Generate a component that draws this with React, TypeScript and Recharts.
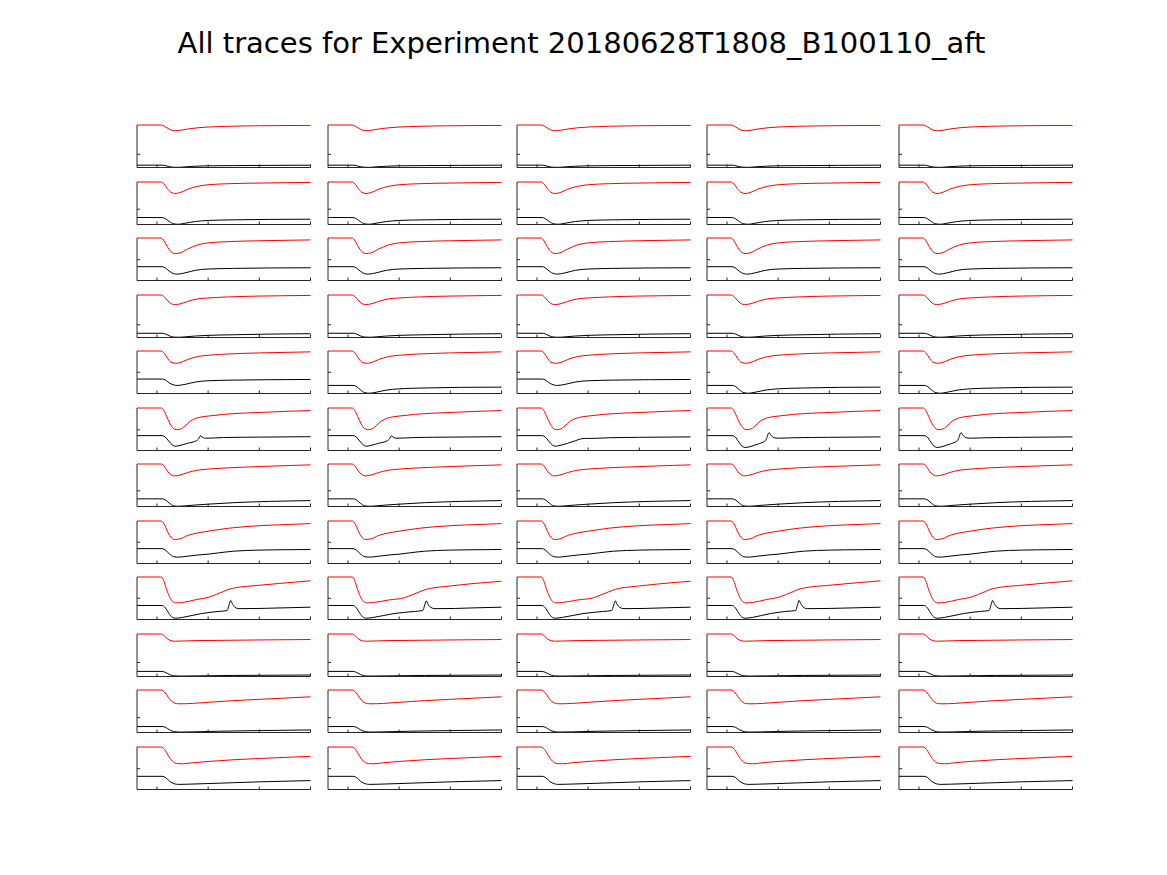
import { LineChart, Line, XAxis, YAxis } from "recharts";

// Small multiples: 12 rows x 5 columns, each panel shows a red and a black trace.
// Values are in panel units (0 = bottom axis, 1 = top of the red trace), time on x.
type Pt = [number, number];

const TITLE = "All traces for Experiment 20180628T1808_B100110_aft";
const X_DOMAIN: [number, number] = [-0.39, 3];
const X_TICKS = [0, 1, 2, 3];
const Y_TICK_BY_ROW = [0.31, 0.36, 0.49, 0.3, 0.5, 0.485, 0.37, 0.5, 0.5, 0.33, 0.35, 0.49];

const red1: Pt[] = [[-0.39, 1], [0.08, 1], [0.14, 0.975], [0.2, 0.93], [0.27, 0.885], [0.35, 0.865], [0.45, 0.875], [0.6, 0.905], [0.8, 0.935], [1, 0.952], [1.4, 0.97], [2, 0.982], [2.6, 0.988], [3, 0.99]];
const black1: Pt[] = [[-0.39, 0.055], [0.1, 0.055], [0.16, 0.045], [0.24, 0.02], [0.33, 0.006], [0.42, 0.004], [0.55, 0.015], [0.75, 0.03], [1, 0.04], [1.5, 0.045], [2.2, 0.05], [3, 0.055]];

const red2: Pt[] = [[-0.39, 1], [0.08, 1], [0.14, 0.95], [0.2, 0.85], [0.27, 0.76], [0.35, 0.73], [0.45, 0.75], [0.6, 0.83], [0.8, 0.9], [1, 0.935], [1.4, 0.96], [2, 0.975], [2.6, 0.985], [3, 0.99]];
const black2: Pt[] = [[-0.39, 0.165], [0.1, 0.163], [0.16, 0.14], [0.24, 0.07], [0.33, 0.015], [0.42, 0.006], [0.55, 0.03], [0.75, 0.07], [1, 0.095], [1.5, 0.11], [2.2, 0.12], [3, 0.125]];

const red3: Pt[] = [[-0.39, 1], [0.08, 1], [0.14, 0.93], [0.2, 0.8], [0.27, 0.68], [0.35, 0.635], [0.45, 0.65], [0.6, 0.74], [0.8, 0.84], [1, 0.885], [1.4, 0.915], [2, 0.935], [2.6, 0.948], [3, 0.955]];
const black3: Pt[] = [[-0.39, 0.325], [0.1, 0.325], [0.16, 0.3], [0.24, 0.22], [0.33, 0.16], [0.4, 0.15], [0.55, 0.18], [0.75, 0.24], [1, 0.27], [1.5, 0.285], [2.2, 0.295], [3, 0.3]];

const red4: Pt[] = [[-0.39, 1], [0.08, 1], [0.14, 0.96], [0.2, 0.88], [0.27, 0.8], [0.34, 0.775], [0.45, 0.79], [0.6, 0.85], [0.8, 0.91], [1, 0.93], [1.4, 0.955], [2, 0.975], [2.6, 0.985], [3, 0.99]];
const black4: Pt[] = [[-0.39, 0.1], [0.1, 0.1], [0.16, 0.085], [0.24, 0.04], [0.33, 0.01], [0.42, 0.006], [0.55, 0.015], [0.75, 0.035], [1, 0.05], [1.5, 0.065], [2.2, 0.08], [3, 0.09]];

const red5: Pt[] = [[-0.39, 1], [0.08, 1], [0.14, 0.95], [0.2, 0.84], [0.27, 0.74], [0.36, 0.71], [0.45, 0.725], [0.6, 0.8], [0.8, 0.87], [1, 0.9], [1.4, 0.93], [2, 0.955], [2.6, 0.97], [3, 0.98]];
const black5: Pt[] = [[-0.39, 0.34], [0.1, 0.34], [0.16, 0.32], [0.24, 0.25], [0.33, 0.2], [0.4, 0.19], [0.55, 0.215], [0.75, 0.27], [1, 0.3], [1.5, 0.315], [2.2, 0.325], [3, 0.33]];
const black5low: Pt[] = [[-0.39, 0.19], [0.1, 0.19], [0.16, 0.17], [0.24, 0.09], [0.33, 0.02], [0.42, 0.006], [0.55, 0.03], [0.75, 0.08], [1, 0.11], [1.5, 0.13], [2.2, 0.145], [3, 0.15]];

const red6: Pt[] = [[-0.39, 1], [0.08, 1], [0.13, 0.95], [0.19, 0.8], [0.26, 0.62], [0.32, 0.52], [0.38, 0.49], [0.45, 0.5], [0.55, 0.58], [0.65, 0.69], [0.77, 0.76], [0.9, 0.795], [1, 0.81], [1.3, 0.85], [1.7, 0.88], [2.2, 0.905], [2.6, 0.925], [3, 0.94]];
const black6: Pt[] = [[-0.39, 0.35], [0.1, 0.35], [0.16, 0.32], [0.23, 0.22], [0.3, 0.13], [0.36, 0.1], [0.45, 0.12], [0.6, 0.17], [0.77, 0.23], [0.81, 0.27], [0.85, 0.345], [0.88, 0.32], [0.93, 0.29], [1, 0.29], [1.3, 0.305], [2, 0.315], [3, 0.325]];
const black6hump: Pt[] = [[-0.39, 0.35], [0.1, 0.35], [0.16, 0.32], [0.23, 0.22], [0.3, 0.13], [0.36, 0.1], [0.45, 0.12], [0.6, 0.17], [0.75, 0.23], [0.85, 0.27], [0.95, 0.285], [1.1, 0.285], [1.4, 0.3], [2, 0.31], [3, 0.32]];
const black6hi: Pt[] = [[-0.39, 0.35], [0.1, 0.35], [0.16, 0.32], [0.23, 0.2], [0.3, 0.1], [0.36, 0.07], [0.45, 0.09], [0.6, 0.15], [0.74, 0.22], [0.78, 0.3], [0.82, 0.42], [0.86, 0.36], [0.92, 0.3], [1, 0.29], [1.3, 0.3], [2, 0.31], [3, 0.32]];

const red7: Pt[] = [[-0.39, 1], [0.08, 1], [0.14, 0.95], [0.2, 0.84], [0.27, 0.75], [0.34, 0.72], [0.45, 0.74], [0.6, 0.8], [0.8, 0.855], [1, 0.88], [1.4, 0.91], [2, 0.94], [2.6, 0.965], [3, 0.98]];
const black7: Pt[] = [[-0.39, 0.18], [0.1, 0.18], [0.16, 0.16], [0.24, 0.08], [0.33, 0.015], [0.42, 0.006], [0.55, 0.015], [0.75, 0.035], [1, 0.055], [1.5, 0.09], [2.2, 0.12], [3, 0.14]];

const red8: Pt[] = [[-0.39, 1], [0.08, 1], [0.14, 0.93], [0.2, 0.77], [0.27, 0.62], [0.34, 0.565], [0.45, 0.58], [0.6, 0.66], [0.8, 0.72], [1, 0.76], [1.4, 0.83], [2, 0.89], [2.6, 0.92], [3, 0.94]];
const black8: Pt[] = [[-0.39, 0.35], [0.1, 0.35], [0.16, 0.32], [0.24, 0.23], [0.33, 0.16], [0.42, 0.15], [0.55, 0.165], [0.8, 0.2], [1, 0.22], [1.2, 0.25], [1.5, 0.29], [2, 0.315], [2.6, 0.325], [3, 0.33]];

const red9: Pt[] = [[-0.39, 1], [0.085, 1], [0.13, 0.92], [0.19, 0.7], [0.26, 0.5], [0.32, 0.41], [0.37, 0.39], [0.5, 0.4], [0.77, 0.47], [1, 0.52], [1.16, 0.59], [1.3, 0.66], [1.43, 0.72], [1.6, 0.76], [1.95, 0.8], [2.4, 0.85], [3, 0.91]];
const red9late: Pt[] = [[-0.39, 1], [0.085, 1], [0.13, 0.92], [0.19, 0.7], [0.26, 0.5], [0.32, 0.41], [0.37, 0.39], [0.5, 0.4], [0.8, 0.46], [1.1, 0.51], [1.25, 0.58], [1.4, 0.65], [1.53, 0.71], [1.7, 0.75], [2, 0.79], [2.4, 0.84], [3, 0.9]];
const black9: Pt[] = [[-0.39, 0.33], [0.1, 0.33], [0.16, 0.28], [0.23, 0.15], [0.3, 0.05], [0.36, 0.03], [0.5, 0.05], [0.87, 0.14], [1.2, 0.19], [1.37, 0.21], [1.41, 0.35], [1.44, 0.45], [1.47, 0.38], [1.52, 0.29], [1.6, 0.255], [2, 0.26], [2.5, 0.275], [3, 0.29]];
const black9late: Pt[] = [[-0.39, 0.33], [0.1, 0.33], [0.16, 0.28], [0.23, 0.15], [0.3, 0.05], [0.36, 0.03], [0.5, 0.05], [0.9, 0.14], [1.3, 0.19], [1.46, 0.21], [1.5, 0.34], [1.53, 0.44], [1.56, 0.37], [1.61, 0.29], [1.7, 0.255], [2.1, 0.26], [2.5, 0.275], [3, 0.29]];
const black9early: Pt[] = [[-0.39, 0.33], [0.1, 0.33], [0.16, 0.28], [0.23, 0.15], [0.3, 0.05], [0.36, 0.03], [0.5, 0.05], [0.85, 0.14], [1.15, 0.19], [1.34, 0.21], [1.38, 0.35], [1.41, 0.45], [1.44, 0.38], [1.49, 0.29], [1.57, 0.255], [2, 0.26], [2.5, 0.275], [3, 0.29]];

const red10: Pt[] = [[-0.39, 1], [0.08, 1], [0.14, 0.96], [0.2, 0.89], [0.28, 0.84], [0.36, 0.83], [0.5, 0.835], [0.8, 0.845], [1.2, 0.85], [2, 0.86], [3, 0.87]];
const black10: Pt[] = [[-0.39, 0.12], [0.1, 0.12], [0.16, 0.1], [0.24, 0.05], [0.33, 0.015], [0.45, 0.01], [0.8, 0.015], [1.5, 0.025], [3, 0.035]];

const red11: Pt[] = [[-0.39, 1], [0.08, 1], [0.15, 0.95], [0.22, 0.83], [0.3, 0.72], [0.38, 0.68], [0.45, 0.675], [0.7, 0.685], [1, 0.71], [1.5, 0.75], [2, 0.78], [2.5, 0.81], [3, 0.84]];
const black11: Pt[] = [[-0.39, 0.14], [0.1, 0.14], [0.17, 0.12], [0.25, 0.06], [0.34, 0.02], [0.45, 0.01], [0.7, 0.015], [1.2, 0.03], [2, 0.045], [3, 0.06]];

const red12: Pt[] = [[-0.39, 1], [0.08, 1], [0.15, 0.94], [0.22, 0.8], [0.3, 0.67], [0.4, 0.61], [0.5, 0.605], [0.7, 0.63], [1, 0.66], [1.5, 0.7], [2, 0.73], [2.5, 0.755], [3, 0.78]];
const black12: Pt[] = [[-0.39, 0.31], [0.1, 0.31], [0.17, 0.28], [0.25, 0.19], [0.34, 0.135], [0.42, 0.12], [0.6, 0.125], [1, 0.14], [1.5, 0.16], [2, 0.18], [2.5, 0.195], [3, 0.21]];

// [row][col]
const RED_GRID: Pt[][][] = [
  [red1, red1, red1, red1, red1],
  [red2, red2, red2, red2, red2],
  [red3, red3, red3, red3, red3],
  [red4, red4, red4, red4, red4],
  [red5, red5, red5, red5, red5],
  [red6, red6, red6, red6, red6],
  [red7, red7, red7, red7, red7],
  [red8, red8, red8, red8, red8],
  [red9, red9late, red9late, red9, red9],
  [red10, red10, red10, red10, red10],
  [red11, red11, red11, red11, red11],
  [red12, red12, red12, red12, red12],
];
const BLACK_GRID: Pt[][][] = [
  [black1, black1, black1, black1, black1],
  [black2, black2, black2, black2, black2],
  [black3, black3, black3, black3, black3],
  [black4, black4, black4, black4, black4],
  [black5, black5low, black5, black5low, black5low],
  [black6, black6, black6hump, black6hi, black6hi],
  [black7, black7, black7, black7, black7],
  [black8, black8, black8, black8, black8],
  [black9, black9late, black9late, black9early, black9],
  [black10, black10, black10, black10, black10],
  [black11, black11, black11, black11, black11],
  [black12, black12, black12, black12, black12],
];

// layout (px)
const COL_LEFT = [137, 327.5, 517, 707, 898.5];
const ROW_TOP0 = 125;
const ROW_STEP = 56.5;
const PW = 173.5;
const PH = 42.5;
const M = 5;
const AXIS = "#262626";
const TICK_LEN = 3;

const toRows = (pts: Pt[]) => pts.map(([t, v]) => ({ t, v }));

// inward tick marks, drawn at the positions recharts hands to the tick renderer
const XTick = ({ x, y }: { x: number; y: number }) => (
  <line x1={x} x2={x} y1={y} y2={y - TICK_LEN} stroke={AXIS} strokeWidth={1} />
);
const YTick = ({ x, y }: { x: number; y: number }) => (
  <line x1={x} x2={x + TICK_LEN} y1={y} y2={y} stroke={AXIS} strokeWidth={1} />
);

function Panel({ red, black, yTick, left, top }: { red: Pt[]; black: Pt[]; yTick: number; left: number; top: number }) {
  // axes get a 1px band so they are laid out; margins absorb it
  return (
    <div style={{ position: "absolute", left: left - M, top: top - M }}>
      <LineChart width={PW + 2 * M} height={PH + 2 * M} margin={{ top: M, right: M, bottom: M - 1, left: M - 1 }}>
        <XAxis type="number" dataKey="t" domain={X_DOMAIN} ticks={X_TICKS} interval={0} tick={XTick}
          tickSize={0} tickMargin={0} tickLine={false} height={1} axisLine={{ stroke: AXIS }} />
        <YAxis type="number" domain={[0, 1]} ticks={[yTick]} interval={0} tick={YTick}
          tickSize={0} tickMargin={0} tickLine={false} width={1} axisLine={{ stroke: AXIS }} />
        <Line data={toRows(red)} dataKey="v" type="monotone" stroke="#ff0000" strokeWidth={1} dot={false} isAnimationActive={false} />
        <Line data={toRows(black)} dataKey="v" type="monotone" stroke="#000000" strokeWidth={1} dot={false} isAnimationActive={false} />
      </LineChart>
    </div>
  );
}

export default function App() {
  return (
    <div style={{ position: "absolute", left: 0, top: 0, width: 1167, height: 875, background: "#fff", fontFamily: "DejaVu Sans, sans-serif" }}>
      <div style={{ position: "absolute", left: 0, width: 1163, top: 29, textAlign: "center", fontSize: 29, lineHeight: "29px", color: "#000" }}>
        {TITLE}
      </div>
      {RED_GRID.map((row, r) =>
        row.map((red, c) => (
          <Panel key={`${r}-${c}`} red={red} black={BLACK_GRID[r][c]} yTick={Y_TICK_BY_ROW[r]}
            left={COL_LEFT[c]} top={ROW_TOP0 + r * ROW_STEP} />
        ))
      )}
    </div>
  );
}
